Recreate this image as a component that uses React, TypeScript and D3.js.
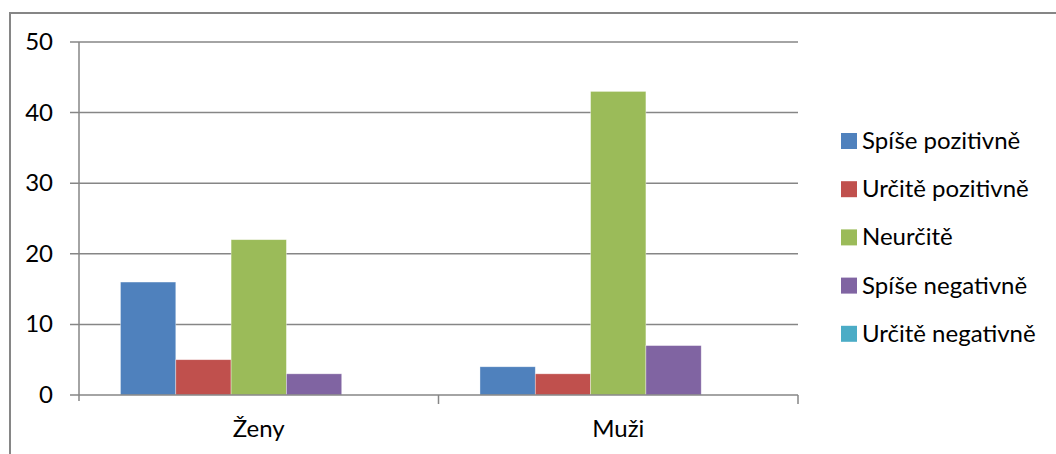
import React, { useEffect, useRef } from 'react';
import * as d3 from 'd3';

// chart data
const categories = ['Ženy', 'Muži'];
const seriesNames = [
  'Spíše pozitivně',
  'Určitě pozitivně',
  'Neurčitě',
  'Spíše negativně',
  'Určitě negativně',
];
const spisePozitivne = [16, 4];
const urcitePozitivne = [5, 3];
const neurcite = [22, 43];
const spiseNegativne = [3, 7];
const urciteNegativne = [0, 0];
const yTicks = [0, 10, 20, 30, 40, 50];

const seriesValues = [spisePozitivne, urcitePozitivne, neurcite, spiseNegativne, urciteNegativne];
const colors = ['#4F81BD', '#C0504D', '#9BBB59', '#8064A2', '#4BACC6'];

const App = () => {
  const chartRef = useRef<SVGSVGElement>(null);

  useEffect(() => {
    const width = 1056;
    const height = 454;
    const plot = { left: 79, right: 798, top: 42, bottom: 395 };
    const font = 'Lato, Calibri, sans-serif';
    const gridColor = '#868686';

    const svg = d3.select(chartRef.current).attr('width', width).attr('height', height);
    svg.selectAll('*').remove();

    // chart border
    svg
      .append('rect')
      .attr('x', 10)
      .attr('y', 13)
      .attr('width', width + 10)
      .attr('height', height + 10)
      .attr('fill', '#fff')
      .attr('stroke', gridColor)
      .attr('stroke-width', 2);

    const yScale = d3.scaleLinear().domain([0, 50]).range([plot.bottom, plot.top]);

    const xScale = d3.scaleBand().domain(categories).range([plot.left, plot.right]).padding(0);

    // gap width 150% -> 0.75 step on each side
    const innerScale = d3
      .scaleBand()
      .domain(seriesNames)
      .range([0, xScale.bandwidth()])
      .paddingInner(0)
      .paddingOuter(0.75);

    // gridlines
    svg
      .append('g')
      .selectAll('line')
      .data(yTicks.filter((t) => t > 0))
      .enter()
      .append('line')
      .attr('x1', plot.left - 9)
      .attr('x2', plot.right)
      .attr('y1', (d) => yScale(d))
      .attr('y2', (d) => yScale(d))
      .attr('stroke', gridColor)
      .attr('stroke-width', 1.5);

    // bars
    seriesNames.forEach((name, si) => {
      svg
        .append('g')
        .selectAll('rect')
        .data(categories.map((c, ci) => ({ c, v: seriesValues[si][ci] })))
        .enter()
        .append('rect')
        .attr('x', (d) => (xScale(d.c) as number) + (innerScale(name) as number))
        .attr('y', (d) => yScale(d.v))
        .attr('width', innerScale.bandwidth())
        .attr('height', (d) => yScale(0) - yScale(d.v))
        .attr('fill', colors[si])
        .attr('stroke', 'rgba(255,255,255,0.5)')
        .attr('stroke-width', 0.7);
    });

    // y axis
    svg
      .append('line')
      .attr('x1', plot.left)
      .attr('x2', plot.left)
      .attr('y1', plot.top)
      .attr('y2', plot.bottom + 6)
      .attr('stroke', gridColor)
      .attr('stroke-width', 1.5);

    svg
      .append('line')
      .attr('x1', plot.left - 9)
      .attr('x2', plot.left)
      .attr('y1', plot.bottom)
      .attr('y2', plot.bottom)
      .attr('stroke', gridColor)
      .attr('stroke-width', 1.5);

    svg
      .append('g')
      .selectAll('text')
      .data(yTicks)
      .enter()
      .append('text')
      .attr('x', 53)
      .attr('y', (d) => yScale(d) + 8)
      .attr('text-anchor', 'end')
      .style('font-family', font)
      .style('font-size', '24px')
      .style('fill', '#000')
      .text((d) => d);

    // x axis
    svg
      .append('line')
      .attr('x1', plot.left)
      .attr('x2', plot.right)
      .attr('y1', plot.bottom)
      .attr('y2', plot.bottom)
      .attr('stroke', gridColor)
      .attr('stroke-width', 1.5);

    svg
      .append('g')
      .selectAll('line')
      .data(categories.slice(1).map((c) => xScale(c) as number).concat([plot.right]))
      .enter()
      .append('line')
      .attr('x1', (d) => d)
      .attr('x2', (d) => d)
      .attr('y1', plot.bottom)
      .attr('y2', plot.bottom + 9)
      .attr('stroke', gridColor)
      .attr('stroke-width', 1.5);

    svg
      .append('g')
      .selectAll('text')
      .data(categories)
      .enter()
      .append('text')
      .attr('x', (d) => (xScale(d) as number) + xScale.bandwidth() / 2)
      .attr('y', 437)
      .attr('text-anchor', 'middle')
      .style('font-family', font)
      .style('font-size', '24px')
      .style('fill', '#000')
      .text((d) => d);

    // legend
    const legend = svg.append('g').attr('transform', 'translate(841, 141)');
    const rowGap = 48.2;
    seriesNames.forEach((name, i) => {
      legend
        .append('rect')
        .attr('x', 0)
        .attr('y', i * rowGap - 8)
        .attr('width', 16)
        .attr('height', 16)
        .attr('fill', colors[i]);
      legend
        .append('text')
        .attr('x', 21)
        .attr('y', i * rowGap + 8)
        .style('font-family', font)
        .style('font-size', '24px')
        .style('fill', '#000')
        .text(name);
    });
  }, []);

  return (
    <div style={{ position: 'absolute', left: 0, top: 0 }}>
      <svg ref={chartRef} style={{ display: 'block' }}></svg>
    </div>
  );
};

export default App;
